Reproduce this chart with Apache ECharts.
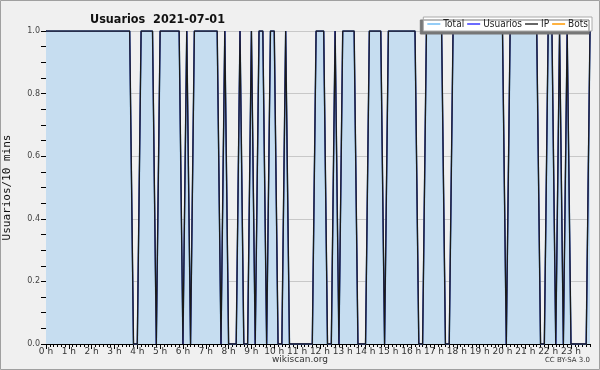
<!DOCTYPE html>
<html>
<head>
<meta charset="utf-8">
<script src="https://cdn.jsdelivr.net/npm/echarts@6/dist/echarts.min.js"></script>
<style>
  html, body { margin: 0; padding: 0; background: #f0f0f0; }
  #grafico { width: 600px; height: 370px; }
</style>
</head>
<body>
<div id="grafico"></div>
<script>
// 144 intervalos de 10 minutos (00:00 - 23:50)
var horas = [];
for (var i = 0; i < 144; i++) {
  horas.push(i % 6 === 0 ? (i / 6) + ' h' : '');
}

// valores, por tramos de 10 min
var total = [
  1,1,1,1,1,1,1,1,1,1, 1,1,1,1,1,1,1,1,1,1, 1,1,1,0,0,1,1,1,1,0,
  1,1,1,1,1,1,0,1,0,1, 1,1,1,1,1,1,0,1,0,0, 0,1,0,0,1,0,1,1,0,1,
  1,0,0,1,0,0,0,0,0,0, 0,1,1,1,0,0,1,0,1,1, 1,1,0,0,0,1,1,1,1,0,
  1,1,1,1,1,1,1,1,0,0, 1,1,1,1,1,0,0,1,1,1, 1,1,1,1,1,1,1,1,1,1,
  1,0,1,1,1,1,1,1,1,1, 0,0,1,1,0,1,0,1,0,0, 0,0,0,1
];
var usuarios = total.slice();
var ip = total.slice();
var bots = [];

var yTicks = [0, 0.2, 0.4, 0.6, 0.8, 1.0];

var grafico = echarts.init(document.getElementById('grafico'));

var fuente = 'DejaVu Sans';
var fuenteC = '"DejaVu Sans Condensed", "DejaVu Sans"';

grafico.setOption({
  backgroundColor: '#f0f0f0',
  animation: false,
  title: {
    text: 'Usuarios  2021-07-01',
    left: 85,
    top: 8,
    textStyle: { fontFamily: fuenteC, fontSize: 12.5, fontWeight: 'bold', color: '#111' }
  },
  legend: {
    right: 8,
    top: 17,
    padding: [2, 4, 2, 4],
    itemGap: 3,
    itemWidth: 13,
    itemHeight: 1.5,
    icon: 'rect',
    backgroundColor: '#ffffff',
    borderColor: '#aaaaaa',
    borderWidth: 1,
    shadowColor: '#777777',
    shadowOffsetX: -3,
    shadowOffsetY: 3,
    shadowBlur: 0,
    textStyle: { fontFamily: fuenteC, fontSize: 10, color: '#222', padding: [0, 0, 0, -2] },
    data: [
      { name: 'Total', itemStyle: { color: '#72bdf5' } },
      { name: 'Usuarios', itemStyle: { color: '#3a3aff' } },
      { name: 'IP', itemStyle: { color: '#333333' } },
      { name: 'Bots', itemStyle: { color: '#ff9900' } }
    ]
  },
  grid: { left: 46, right: 10, top: 31, bottom: 26, outerBoundsMode: 'none', containLabel: false },
  xAxis: [
    {
      type: 'category',
      data: horas,
      boundaryGap: false,
      axisLine: { lineStyle: { color: '#000', width: 1 } },
      axisTick: { interval: 0, length: 3, lineStyle: { color: '#000' } },
      axisLabel: {
        interval: 0,
        fontFamily: fuente,
        fontSize: 9,
        color: '#333',
        margin: 3
      },
      splitLine: { show: false }
    },
    {
      type: 'category',
      data: horas,
      boundaryGap: false,
      position: 'bottom',
      axisLine: { show: false },
      axisTick: { interval: 5, length: 5, lineStyle: { color: '#000' } },
      axisLabel: { show: false },
      splitLine: { show: false }
    }
  ],
  yAxis: {
    type: 'value',
    min: yTicks[0],
    max: yTicks[yTicks.length - 1],
    interval: 0.2,
    name: 'Usuarios/10 mins',
    nameLocation: 'middle',
    nameGap: 33,
    nameTextStyle: { fontFamily: 'DejaVu Sans Mono', fontSize: 11, color: '#111' },
    axisLine: { show: true, lineStyle: { color: '#000' } },
    axisTick: { show: true, length: 5, lineStyle: { color: '#000' } },
    minorTick: { show: true, splitNumber: 4, length: 5, lineStyle: { color: '#000' } },
    axisLabel: {
      fontFamily: fuente,
      fontSize: 8,
      color: '#444',
      margin: 6,
      formatter: function (v) { return v.toFixed(1); }
    },
    splitLine: { show: true, lineStyle: { color: '#c8c8c8', width: 1 } }
  },
  series: [
    {
      name: 'Total',
      type: 'line',
      data: total,
      symbol: 'none',
      lineStyle: { color: '#4d86bd', width: 1.5 },
      itemStyle: { color: '#72bdf5' },
      areaStyle: { color: '#c6ddf0', opacity: 1 }
    },
    {
      name: 'Usuarios',
      type: 'line',
      data: usuarios,
      symbol: 'none',
      lineStyle: { color: '#3a3aff', width: 1 },
      itemStyle: { color: '#3a3aff' }
    },
    {
      name: 'IP',
      type: 'line',
      data: ip,
      symbol: 'none',
      lineStyle: { color: '#1a1a1a', width: 1.3 },
      itemStyle: { color: '#333333' }
    },
    {
      name: 'Bots',
      type: 'line',
      data: bots,
      symbol: 'none',
      lineStyle: { color: '#ff9900', width: 1 },
      itemStyle: { color: '#ff9900' }
    }
  ],
  graphic: [
    {
      type: 'rect',
      shape: { x: 0.5, y: 0.5, width: 599, height: 369 },
      style: { fill: 'none', stroke: '#a0a0a0', lineWidth: 1 },
      silent: true
    },
    {
      type: 'text',
      left: 'center',
      top: 355,
      style: { text: 'wikiscan.org', fontFamily: fuente, fontSize: 9, fill: '#333' }
    },
    {
      type: 'text',
      right: 10,
      top: 357,
      style: { text: 'CC BY-SA 3.0', fontFamily: fuente, fontSize: 7, fill: '#333' }
    }
  ]
});
</script>
</body>
</html>
